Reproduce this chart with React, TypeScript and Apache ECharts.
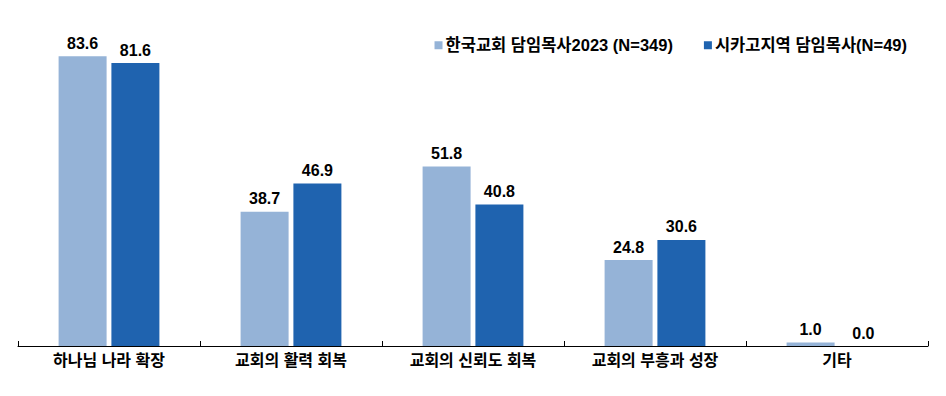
import React, { useEffect, useRef } from "react";
import * as echarts from "echarts";

const categories = ["하나님 나라 확장", "교회의 활력 회복", "교회의 신뢰도 회복", "교회의 부흥과 성장", "기타"];
const seriesNames = ["한국교회 담임목사2023 (N=349)", "시카고지역 담임목사(N=49)"];
const korea2023 = [83.6, 38.7, 51.8, 24.8, 1.0];
const chicago = [81.6, 46.9, 40.8, 30.6, 0.0];
const colors = ["#95B3D7", "#1F63AF"];

const FONT = "'Liberation Sans', 'Noto Sans CJK KR', sans-serif";

export default function App() {
  const ref = useRef<HTMLDivElement>(null);
  useEffect(() => {
    if (!ref.current) return;
    const chart = echarts.init(ref.current, null, { renderer: "svg" });
    const label = {
      show: true,
      position: "top",
      distance: 5,
      formatter: (p: any) => Number(p.value).toFixed(1),
      fontFamily: FONT,
      fontWeight: "bold",
      fontSize: 16,
      color: "#000",
    };
    chart.setOption({
      animation: false,
      textStyle: { fontFamily: FONT },
      legend: {
        top: 24,
        right: 26,
        itemWidth: 8,
        itemHeight: 8,
        itemGap: 31,
        icon: "rect",
        textStyle: { fontFamily: FONT, fontWeight: "bold", fontSize: 16.5, color: "#000", padding: [0, 0, 0, -2] },
        data: seriesNames,
      },
      grid: { left: 10, right: 10, top: 26, bottom: 42, containLabel: false },
      xAxis: {
        type: "category",
        data: categories,
        axisLine: { lineStyle: { color: "#000", width: 1 } },
        axisTick: { show: true, inside: true, length: 5, lineStyle: { color: "#000" } },
        axisLabel: { fontFamily: FONT, fontWeight: "bold", fontSize: 16, color: "#000", margin: 6 },
      },
      yAxis: {
        type: "value",
        min: 0,
        max: 90,
        show: false,
        splitLine: { show: false },
      },
      series: [
        {
          name: seriesNames[0],
          type: "bar",
          data: korea2023,
          barWidth: 48,
          barGap: "10%",
          itemStyle: { color: colors[0] },
          label,
        },
        {
          name: seriesNames[1],
          type: "bar",
          data: chicago,
          barWidth: 48,
          barGap: "10%",
          itemStyle: { color: colors[1] },
          label,
        },
      ],
    });
    return () => chart.dispose();
  }, []);
  return <div ref={ref} style={{ width: 930, height: 380 }} />;
}
